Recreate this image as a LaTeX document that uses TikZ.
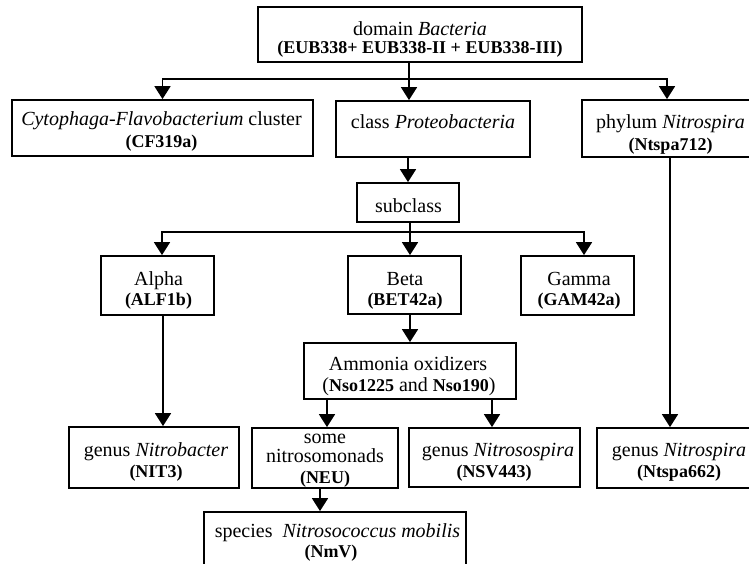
\documentclass[tikz,border=0pt]{standalone}
\usepackage{fontspec}
\setmainfont{Liberation Serif}
\usetikzlibrary{arrows.meta,calc}
\newcommand{\lbl}[1]{{\fontsize{18}{22}\selectfont\bfseries #1}}
\begin{document}
\begin{tikzpicture}[x=1pt,y=-1pt,
  bx/.style={draw, line width=1.8pt, inner sep=0pt},
  tx/.style={inner sep=0pt, anchor=base, font=\fontsize{20}{24}\selectfont},
  ln/.style={line width=1.8pt},
  arr/.style={line width=1.8pt, -{Triangle[width=16pt,length=13pt]}}]
\useasboundingbox (0,0) rectangle (749,564);
\clip (0,0) rectangle (749,564);
% boxes
\node[bx, minimum width=324, minimum height=55] (top) at (420,34.5) {};
\node[bx, minimum width=301, minimum height=56] (cf) at (162.5,128) {};
\node[bx, minimum width=194, minimum height=56] (class) at (433,129) {};
\node[bx, minimum width=176, minimum height=57] (phyl) at (670,128.5) {};
\node[bx, minimum width=102, minimum height=39] (sub) at (408,202.5) {};
\node[bx, minimum width=113, minimum height=59] (alpha) at (157.5,285.5) {};
\node[bx, minimum width=113, minimum height=58] (beta) at (404.5,285) {};
\node[bx, minimum width=113, minimum height=59] (gamma) at (577.5,285.5) {};
\node[bx, minimum width=212, minimum height=56] (amm) at (410,371) {};
\node[bx, minimum width=170, minimum height=61] (nbac) at (154,457.5) {};
\node[bx, minimum width=146, minimum height=60] (neu) at (325,458) {};
\node[bx, minimum width=171, minimum height=59] (nsp) at (494.5,457.5) {};
\node[bx, minimum width=164, minimum height=60] (gnit) at (679,458) {};
\node[bx, minimum width=262, minimum height=58] (spec) at (335,541) {};
% texts
\node[tx] (top1) at (420,35.5) {domain \textit{Bacteria}};
\node[tx] (top2) at (420,54) {\lbl{(EUB338+ EUB338-II + EUB338-III)}};
\node[tx] (cf1) at (161.5,126) {\textit{Cytophaga-Flavobacterium} cluster};
\node[tx] (cf2) at (161.5,148) {\lbl{(CF319a)}};
\node[tx] (class1) at (433,129) {class \textit{Proteobacteria}};
\node[tx] (phyl1) at (670.5,129) {phylum \textit{Nitrospira}};
\node[tx] (phyl2) at (670.5,151) {\lbl{(Ntspa712)}};
\node[tx] (sub1) at (408.5,212) {subclass};
\node[tx] (alpha1) at (158.5,285) {Alpha};
\node[tx] (alpha2) at (158.5,305) {\lbl{(ALF1b)}};
\node[tx] (beta1) at (405,285) {Beta};
\node[tx] (beta2) at (405,305) {\lbl{(BET42a)}};
\node[tx] (gamma1) at (579,285) {Gamma};
\node[tx] (gamma2) at (579,305) {\lbl{(GAM42a)}};
\node[tx] (amm1) at (408,370.5) {Ammonia oxidizers};
\node[tx] (amm2) at (409,391) {(\lbl{Nso1225} and \lbl{Nso190})};
\node[tx] (nbac1) at (156,456.5) {genus \textit{Nitrobacter}};
\node[tx] (nbac2) at (156,477) {\lbl{(NIT3)}};
\node[tx] (neu1) at (325,443) {some};
\node[tx] (neu2) at (325,462) {nitrosomonads};
\node[tx] (neu3) at (325,483) {\lbl{(NEU)}};
\node[tx] (nsp1) at (498,456.5) {genus \textit{Nitrosospira}};
\node[tx] (nsp2) at (494,477) {\lbl{(NSV443)}};
\node[tx] (gnit1) at (679,456.5) {genus \textit{Nitrospira}};
\node[tx] (gnit2) at (679,477) {\lbl{(Ntspa662)}};
\node[tx] (spec1) at (337.5,537) {species\ \ \textit{Nitrosococcus mobilis}};
\node[tx] (spec2) at (331,557) {\lbl{(NmV)}};
% connectors
\coordinate (b1) at (409,79);
\draw[ln] (top.south -| b1) -- (b1);
\draw[arr] (b1) -- (class.north -| b1);
\draw[arr] (b1) -| (cf.north);
\draw[arr] (b1) -| ([xshift=-3pt]phyl.north);
\draw[arr] (class.south -| sub.north) -- (sub.north);
\coordinate (b2) at (410,232);
\draw[ln] (sub.south -| b2) -- (b2);
\draw[arr] (b2) -- (beta.north -| b2);
\draw[arr] (b2) -| ([xshift=4.5pt]alpha.north);
\draw[arr] (b2) -| ([xshift=6.5pt]gamma.north);
\draw[arr] ([xshift=5.5pt]alpha.south) -- ([xshift=5.5pt]alpha.south |- nbac.north);
\draw[arr] (amm.north |- beta.south) -- (amm.north);
\draw[arr] ([xshift=2pt]neu.north |- amm.south) -- ([xshift=2pt]neu.north);
\draw[arr] ([xshift=-2.5pt]nsp.north |- amm.south) -- ([xshift=-2.5pt]nsp.north);
\draw[arr] (phyl.south) -- (phyl.south |- gnit.north);
\draw[arr] ([xshift=-5pt]neu.south) -- ([xshift=-5pt]neu.south |- spec.north);
\end{tikzpicture}
\end{document}
